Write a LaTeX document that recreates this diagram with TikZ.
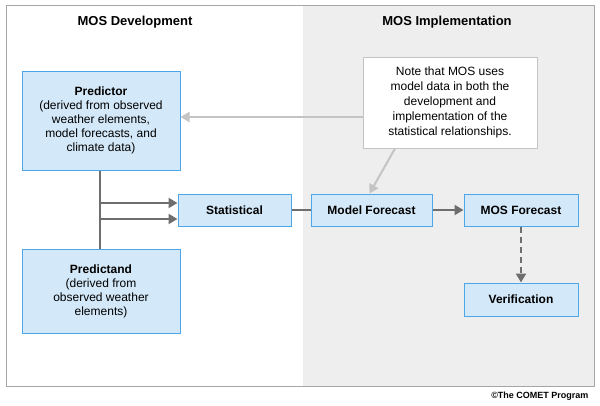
\documentclass[tikz,border=0pt]{standalone}
\usepackage{fontspec}
\setmainfont{Liberation Sans}
\usetikzlibrary{arrows.meta}
\definecolor{boxfill}{HTML}{D3E8F8}
\definecolor{boxline}{HTML}{4DA6E8}
\definecolor{panel}{HTML}{EEEEEE}
\definecolor{arr}{HTML}{6E6E6E}
\definecolor{larr}{HTML}{C4C4C4}
\tikzset{
  bx/.style={draw=boxline, fill=boxfill, line width=1pt, align=center, inner sep=0pt, font=\fontsize{12}{14}\selectfont},
  dk/.style={draw=arr, line width=2.5pt, -{Triangle[length=9pt,width=10pt]}},
  lt/.style={draw=larr, line width=2pt, -{Triangle[length=9pt,width=10pt]}},
  ttl/.style={font=\fontsize{13}{15}\selectfont\bfseries}
}
\begin{document}
\begin{tikzpicture}[x=1pt,y=-1pt]
\useasboundingbox (0,0) rectangle (600,405);
\fill[white] (0,0) rectangle (600,405);
\fill[panel] (303,5) rectangle (594,386);
\draw[gray!70, line width=0.8pt] (6,5) rectangle (594,386);
\node[ttl] (t1) at (135,22) {MOS Development};
\node[ttl] (t2) at (447,22) {MOS Implementation};
\node[bx, minimum width=158pt, minimum height=99pt] (pr) at (101,120.5) {\textbf{Predictor}\\(derived from observed\\weather elements,\\model forecasts, and\\climate data)};
\node[bx, minimum width=158pt, minimum height=84pt] (pd) at (101,291) {\textbf{Predictand}\\(derived from\\observed weather\\elements)};
\node[bx, minimum width=113pt, minimum height=32pt, font=\fontsize{12}{14}\selectfont\bfseries] (st) at (234.5,210) {Statistical};
\node[bx, minimum width=121pt, minimum height=32pt, font=\fontsize{12}{14}\selectfont\bfseries] (mf) at (371.5,210) {Model Forecast};
\node[bx, minimum width=114pt, minimum height=32pt, font=\fontsize{12}{14}\selectfont\bfseries] (mos) at (521,210) {MOS Forecast};
\node[bx, minimum width=114pt, minimum height=33pt, font=\fontsize{12}{14}\selectfont\bfseries] (ver) at (521,299.5) {Verification};
\node[draw=larr, fill=white, line width=1pt, minimum width=174pt, minimum height=91pt, align=center, inner sep=0pt, font=\fontsize{12}{15}\selectfont] (note) at (450,102.5) {Note that MOS uses\\model data in both the\\development and\\implementation of the\\statistical relationships.};
\draw[dk] (pr.south -| 100,0) |- ([yshift=-9pt]st.west);
\draw[dk] (pd.north -| 100,0) |- ([yshift=7pt]st.west);
\draw[draw=arr, line width=2.5pt] (st.east) -- (mf.west);
\draw[dk] (mf.east) -- (mos.west);
\draw[dk, dashed, dash pattern=on 6pt off 4pt] (mos.south) -- (ver.north);
\draw[lt] (note.west |- 0,117) -- (pr.east |- 0,117);
\draw[lt] ([xshift=-55pt]note.south) -- ([xshift=-2pt]mf.north);
\node[anchor=east, font=\fontsize{9}{10}\selectfont\bfseries] (cp) at (592,396) {©The COMET Program};
\end{tikzpicture}
\end{document}
